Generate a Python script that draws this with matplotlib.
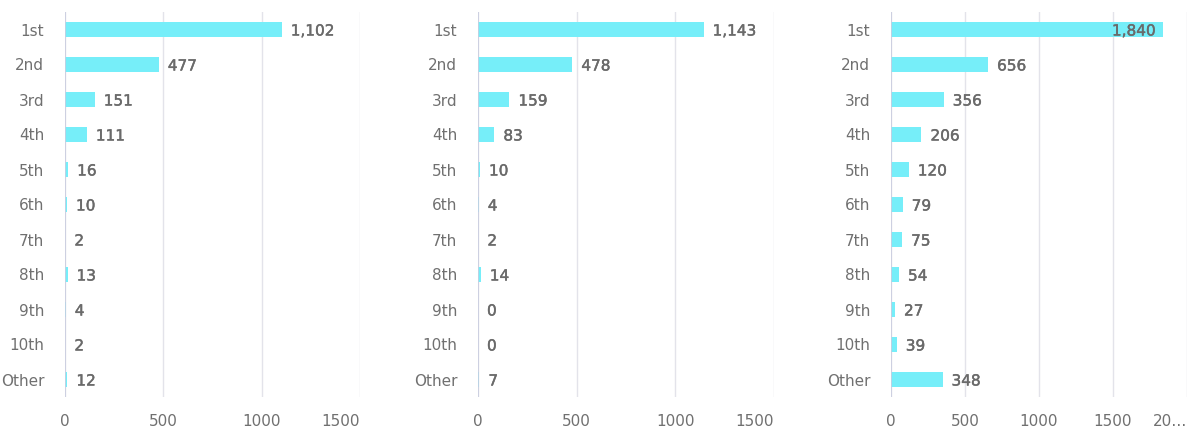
import matplotlib
matplotlib.use("Agg")
import matplotlib.pyplot as plt
import matplotlib.patheffects as pe

categories = ["1st", "2nd", "3rd", "4th", "5th", "6th", "7th", "8th", "9th", "10th", "Other"]
series_a = [1102, 477, 151, 111, 16, 10, 2, 13, 4, 2, 12]
series_b = [1143, 478, 159, 83, 10, 4, 2, 14, 0, 0, 7]
series_c = [1840, 656, 356, 206, 120, 79, 75, 54, 27, 39, 348]
ticks_ab = [0, 500, 1000, 1500]
ticklabels_ab = ["0", "500", "1000", "1500"]
ticks_c = [0, 500, 1000, 1500, 2000]
ticklabels_c = ["0", "500", "1000", "1500", "20…"]

plt.rcParams['font.family'] = ['DejaVu Sans']
BAR = '#76EEF9'
GRID = '#E3E3EA'
TXT = '#707070'
VAL = '#6A6A6A'

fig = plt.figure(figsize=(12, 4.38), dpi=100)
W, H = 1200, 438
top = 12
bottom = 397
panels = [
    (65, 360, series_a, ticks_ab, ticklabels_ab, 1500),
    (478, 774, series_b, ticks_ab, ticklabels_ab, 1500),
    (891, 1187, series_c, ticks_c, ticklabels_c, 2000),
]
thick = [pe.Stroke(linewidth=0.3, foreground=VAL), pe.Normal()]

for left, right, vals, ticks, tlabels, xmax in panels:
    ax = fig.add_axes([left / W, 1 - bottom / H, (right - left) / W, (bottom - top) / H])
    y = list(range(len(categories)))
    ax.barh(y, vals, height=0.43, color=BAR, zorder=3)
    ax.set_xlim(0, xmax)
    ax.set_ylim(len(categories) - 0.5, -0.5)
    ax.set_yticks(y)
    ax.set_yticklabels(categories, fontsize=11, color=TXT)
    ax.set_xticks(ticks)
    lbls = ax.set_xticklabels(tlabels, fontsize=11, color=TXT)
    lbls[-1].set_ha('right')
    ax.tick_params(axis='both', length=0)
    ax.tick_params(axis='x', pad=12)
    ax.tick_params(axis='y', pad=15)
    for s in ax.spines.values():
        s.set_visible(False)
    ax.grid(axis='x', color=GRID, linewidth=1, zorder=0)
    ax.axvline(0, color='#C9CDE0', linewidth=1.2, zorder=4)
    per_px = xmax / (right - left)
    for yi, v in zip(y, vals):
        txt = f"{v:,}"
        est_w = len(txt) * 8 * per_px
        if v + 9 * per_px + est_w > xmax:
            ax.text(v - 8 * per_px, yi, txt, ha='right', va='center_baseline', fontsize=11,
                    color=VAL, zorder=5, path_effects=thick)
        else:
            ax.text(v + 9 * per_px, yi, txt, ha='left', va='center_baseline', fontsize=11,
                    color=VAL, zorder=5, path_effects=thick)

fig.savefig("out.png", dpi=100)
